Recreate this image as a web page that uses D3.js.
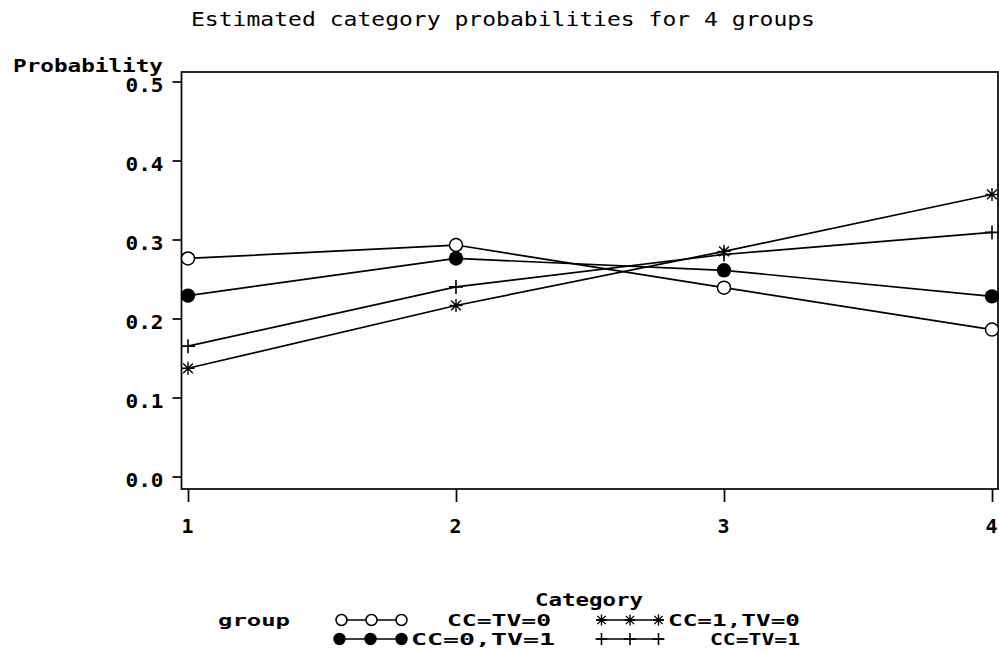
<!DOCTYPE html>
<html><head><meta charset="utf-8">
<script src="https://cdn.jsdelivr.net/npm/d3@7"></script>
<style>body{margin:0;background:#fff}svg{display:block}</style>
</head><body>
<script>
const categories = [1, 2, 3, 4];
const yTicks = [0.0, 0.1, 0.2, 0.3, 0.4, 0.5];
const groupNames = ["CC=TV=0", "CC=0,TV=1", "CC=1,TV=0", "CC=TV=1"];
const seriesCCTV0 = [0.276, 0.293, 0.239, 0.186];
const seriesCC0TV1 = [0.229, 0.276, 0.261, 0.228];
const seriesCC1TV0 = [0.137, 0.2165, 0.285, 0.357];
const seriesCCTV1 = [0.165, 0.240, 0.281, 0.309];
const symbols = ["openCircle", "filledCircle", "star", "plus"];
const allSeries = [seriesCCTV0, seriesCC0TV1, seriesCC1TV0, seriesCCTV1];

const W = 999, H = 652;
const FONT = "'DejaVu Sans Mono', monospace";
const svg = d3.select("body").append("svg").attr("width", W).attr("height", H);

const x = d3.scaleLinear().domain([1, 4]).range([188, 992]);
const y = d3.scaleLinear().domain([0, 0.5]).range([476.5, 81.5]);
const frame = {l: 181.5, t: 72, r: 998, b: 489};

function txt(s, px, py, w, anchor, size, weight) {
  return svg.append("text").attr("x", px).attr("y", py).text(s)
    .attr("text-anchor", anchor).attr("font-family", FONT)
    .attr("font-size", size).attr("font-weight", weight)
    .attr("textLength", w).attr("lengthAdjust", "spacingAndGlyphs").attr("fill", "#000");
}

// title
txt("Estimated category probabilities for 4 groups", 191, 26, 624, "start", 20, "normal");
txt("Probability", 163, 72, 150, "end", 18, "bold");

// frame
svg.append("rect").attr("x", frame.l).attr("y", frame.t)
  .attr("width", frame.r - frame.l).attr("height", frame.b - frame.t)
  .attr("fill", "none").attr("stroke", "#000").attr("stroke-width", 1.7);

// y axis
const yAxis = d3.axisLeft(y).tickValues(yTicks).tickSize(9).tickFormat(d3.format(".1f"));
const gy = svg.append("g").attr("transform", `translate(${frame.l},0)`).call(yAxis);
gy.select(".domain").remove();
gy.selectAll(".tick line").attr("stroke", "#000").attr("stroke-width", 1.7);
gy.selectAll(".tick text").attr("x", -18).attr("dy", "0.5em")
  .attr("font-family", FONT).attr("font-size", 19).attr("font-weight", "bold")
  .attr("textLength", 38).attr("lengthAdjust", "spacingAndGlyphs").attr("fill", "#000");

// x axis
const xAxis = d3.axisBottom(x).tickValues(categories).tickSize(13).tickFormat(d3.format("d"));
const gx = svg.append("g").attr("transform", `translate(0,${frame.b})`).call(xAxis);
gx.select(".domain").remove();
gx.selectAll(".tick line").attr("stroke", "#000").attr("stroke-width", 1.7);
gx.selectAll(".tick text").attr("y", 44).attr("dy", 0).attr("dx", -1)
  .attr("font-family", FONT).attr("font-size", 20).attr("font-weight", "bold").attr("fill", "#000");

txt("Category", 589, 606, 108, "middle", 18, "bold");

// markers
function marker(g, type, cx, cy, r) {
  if (type === "openCircle") {
    g.append("circle").attr("cx", cx).attr("cy", cy).attr("r", r)
      .attr("fill", "#fff").attr("stroke", "#000").attr("stroke-width", 1.5);
  } else if (type === "filledCircle") {
    g.append("circle").attr("cx", cx).attr("cy", cy).attr("r", r + 0.7).attr("fill", "#000");
  } else if (type === "star") {
    const a = r * 0.75;
    g.append("path").attr("d",
      `M${cx - r},${cy}H${cx + r}M${cx},${cy - r}V${cy + r}M${cx - a},${cy - a}L${cx + a},${cy + a}M${cx - a},${cy + a}L${cx + a},${cy - a}`)
      .attr("stroke", "#000").attr("stroke-width", 1.4).attr("fill", "none");
  } else {
    const rr = r + 0.5;
    g.append("path").attr("d", `M${cx - rr},${cy}H${cx + rr}M${cx},${cy - rr}V${cy + rr}`)
      .attr("stroke", "#000").attr("stroke-width", 1.6).attr("fill", "none");
  }
}

const line = d3.line().x((d, i) => x(categories[i])).y(d => y(d));
allSeries.forEach((s, k) => {
  const g = svg.append("g");
  g.append("path").attr("d", line(s)).attr("fill", "none").attr("stroke", "#000").attr("stroke-width", 1.7);
  s.forEach((v, i) => marker(g, symbols[k], x(categories[i]), y(v), 6.5));
});

// legend
txt("group", 218, 626, 72, "start", 16, "bold");
const legendItems = [
  {k: 0, x0: 336, x1: 407, ly: 620, tx: 551, tw: 104},
  {k: 1, x0: 334, x1: 407, ly: 639, tx: 555, tw: 144},
  {k: 2, x0: 596, x1: 664, ly: 620, tx: 800, tw: 132},
  {k: 3, x0: 596, x1: 664, ly: 639, tx: 800, tw: 90}
];
legendItems.forEach(it => {
  const g = svg.append("g");
  g.append("line").attr("x1", it.x0).attr("x2", it.x1).attr("y1", it.ly).attr("y2", it.ly)
    .attr("stroke", "#000").attr("stroke-width", 1.6);
  [it.x0 + 5.5, (it.x0 + it.x1) / 2, it.x1 - 5.5].forEach(mx => marker(g, symbols[it.k], mx, it.ly, 5.5));
  txt(groupNames[it.k], it.tx, it.ly + 6, it.tw, "end", 16, "bold");
});
</script>
</body></html>
